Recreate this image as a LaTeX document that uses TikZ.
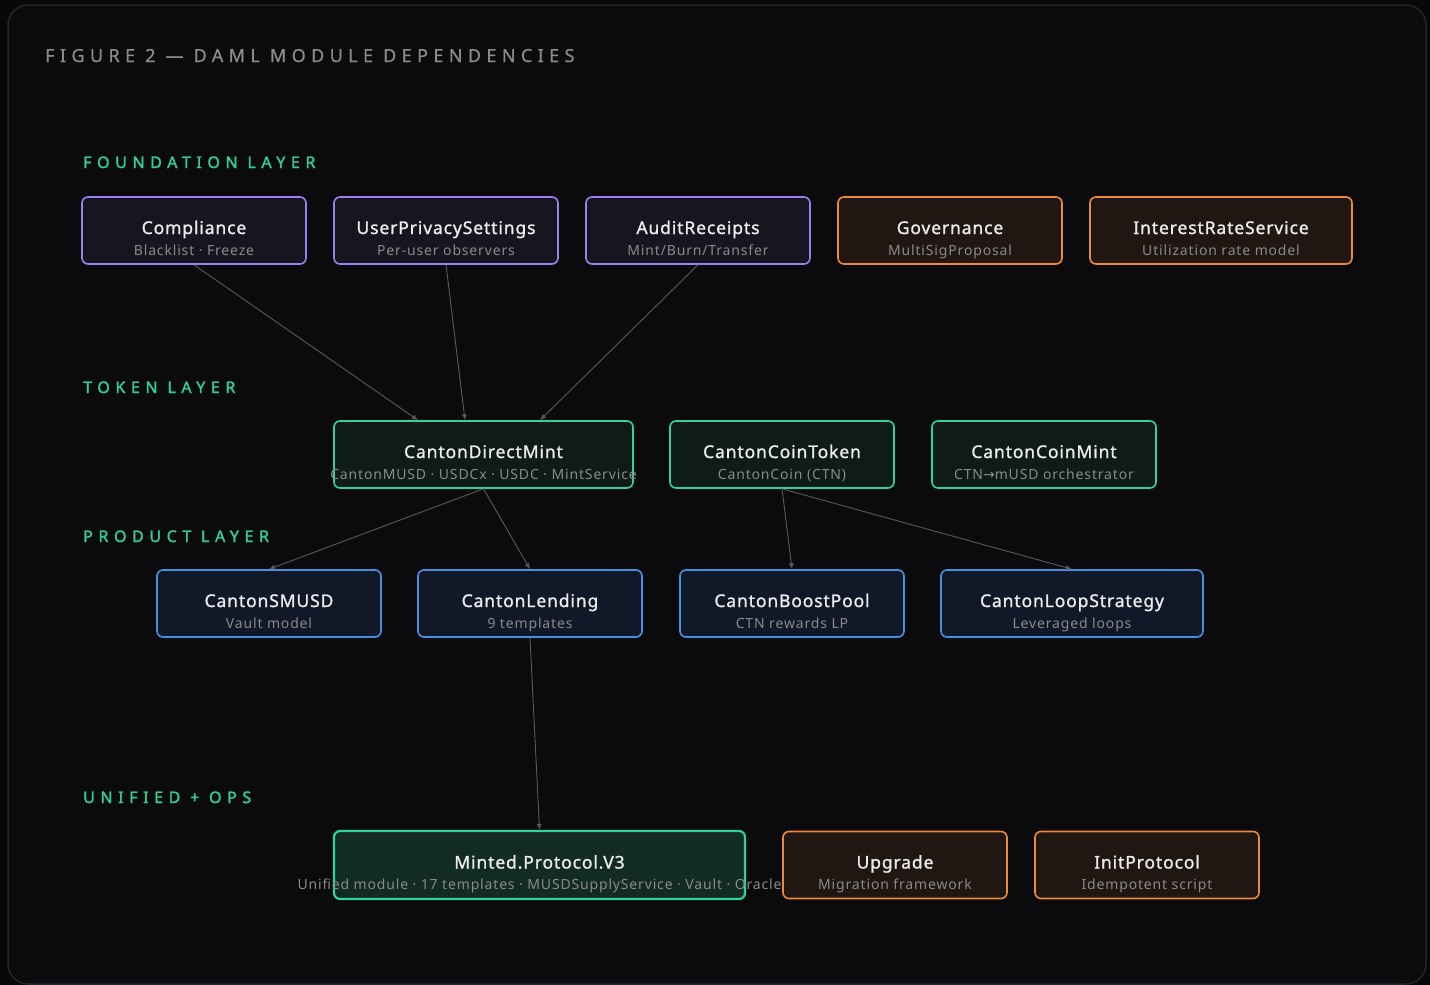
\documentclass[tikz,border=0pt]{standalone}
\usepackage{fontspec}
\setmainfont{Noto Sans}
\newfontfamily\titlefont[LetterSpace=5, FakeBold=1.2]{Noto Sans}
\newfontfamily\subfont[LetterSpace=6]{Noto Sans}
\newfontfamily\headfont[LetterSpace=30, FakeBold=0.6]{Noto Sans}
\newfontfamily\layerfont[LetterSpace=35, FakeBold=1.8]{Noto Sans}
\newfontfamily\arrowfont{DejaVu Sans}
\usepackage{tikz}
\usetikzlibrary{arrows.meta,positioning}

\definecolor{bgout}{HTML}{08080A}
\definecolor{bgin}{HTML}{0B0B0E}
\definecolor{framec}{HTML}{24242A}
\definecolor{headc}{HTML}{8C8C88}
\definecolor{layerc}{HTML}{2FCF92}
\definecolor{titlec}{HTML}{ECECEC}
\definecolor{subc}{HTML}{8A8A8A}
\definecolor{edgec}{HTML}{5A5A5A}
\definecolor{purpled}{HTML}{9D80F0}
\definecolor{purplef}{HTML}{17151F}
\definecolor{oranged}{HTML}{EF8A3A}
\definecolor{orangef}{HTML}{201612}
\definecolor{greend}{HTML}{2FD39A}
\definecolor{greenf}{HTML}{0E1B18}
\definecolor{greenf2}{HTML}{122B23}
\definecolor{blued}{HTML}{4A90E2}
\definecolor{bluef}{HTML}{111827}

% box with a title and a grey line under it
\newcommand{\modbox}[6]{%
  \node[#2, minimum width=#3] (#1) at #4 {};
  \node[modtitle] (#1-t) at ([yshift=-3.5]#1.center) {#5};
  \node[modsub] (#1-s) at ([yshift=-24.5]#1.center) {#6};
}

\begin{document}
\begin{tikzpicture}[x=1pt, y=-1pt,
  box/.style={rectangle, rounded corners=6pt, minimum height=67pt, line width=1.6pt, inner sep=0pt},
  found/.style={box, draw=purpled, fill=purplef},
  govern/.style={box, draw=oranged, fill=orangef},
  token/.style={box, draw=greend, fill=greenf},
  product/.style={box, draw=blued, fill=bluef},
  unified/.style={box, draw=greend, fill=greenf2, line width=2.2pt, minimum height=68pt},
  modtitle/.style={anchor=base, inner sep=0pt, text=titlec, font=\titlefont\fontsize{17.5}{20}\selectfont},
  modsub/.style={anchor=base, inner sep=0pt, text=subc, font=\subfont\fontsize{14}{16}\selectfont},
  layer/.style={anchor=base west, inner sep=0pt, text=layerc, font=\layerfont\fontsize{16}{18}\selectfont},
  dep/.style={draw=edgec, line width=0.9pt, -{Latex[length=6pt,width=5pt]}}]

\useasboundingbox (0,0) rectangle (1430,985);
\fill[bgout] (0,0) rectangle (1430,985);
\draw[framec, fill=bgin, line width=1.5pt, rounded corners=20pt] (8,5) rectangle (1426,984);

\node[anchor=base west, inner sep=0pt, text=headc, font=\headfont\fontsize{18}{20}\selectfont] (head) at (45,62) {FIGURE 2 — DAML MODULE DEPENDENCIES};

\node[layer] (l1) at (83,168) {FOUNDATION LAYER};
\node[layer] (l2) at (83,393) {TOKEN LAYER};
\node[layer] (l3) at (83,542) {PRODUCT LAYER};
\node[layer] (l4) at (83,803) {UNIFIED + OPS};

% foundation
\modbox{comp}{found}{224pt}{(194,230.5)}{Compliance}{Blacklist · Freeze}
\modbox{priv}{found}{224pt}{(446,230.5)}{UserPrivacySettings}{Per-user observers}
\modbox{audit}{found}{224pt}{(698,230.5)}{AuditReceipts}{Mint/Burn/Transfer}
\modbox{gov}{govern}{224pt}{(950,230.5)}{Governance}{MultiSigProposal}
\modbox{rate}{govern}{262pt}{(1221,230.5)}{InterestRateService}{Utilization rate model}

% token
\modbox{dmint}{token}{299pt}{(483.5,454.5)}{CantonDirectMint}{CantonMUSD · USDCx · USDC · MintService}
\modbox{ctok}{token}{224pt}{(782,454.5)}{CantonCoinToken}{CantonCoin (CTN)}
\modbox{cmint}{token}{224pt}{(1044,454.5)}{CantonCoinMint}{CTN{\arrowfont →}mUSD orchestrator}

% product
\modbox{smusd}{product}{224pt}{(269,603.5)}{CantonSMUSD}{Vault model}
\modbox{lend}{product}{224pt}{(530,603.5)}{CantonLending}{9 templates}
\modbox{boost}{product}{224pt}{(792,603.5)}{CantonBoostPool}{CTN rewards LP}
\modbox{loop}{product}{262pt}{(1072,603.5)}{CantonLoopStrategy}{Leveraged loops}

% unified + ops
\modbox{upg}{govern}{224pt}{(895,865)}{Upgrade}{Migration framework}
\modbox{init}{govern}{224pt}{(1147,865)}{InitProtocol}{Idempotent script}
\modbox{v3}{unified}{411pt}{(539.5,865)}{Minted.Protocol.V3}{Unified module · 17 templates · MUSDSupplyService · Vault · Oracle}

\draw[dep] (comp.south) -- ([xshift=-65.5]dmint.north);
\draw[dep] (priv.south) -- ([xshift=-18.5]dmint.north);
\draw[dep] (audit.south) -- ([xshift=56.5]dmint.north);
\draw[dep] (dmint.south) -- (smusd.north);
\draw[dep] (dmint.south) -- (lend.north);
\draw[dep] (ctok.south) -- (boost.north);
\draw[dep] (ctok.south) -- (loop.north);
\draw[dep] (lend.south) -- (v3.north);
\end{tikzpicture}
\end{document}
